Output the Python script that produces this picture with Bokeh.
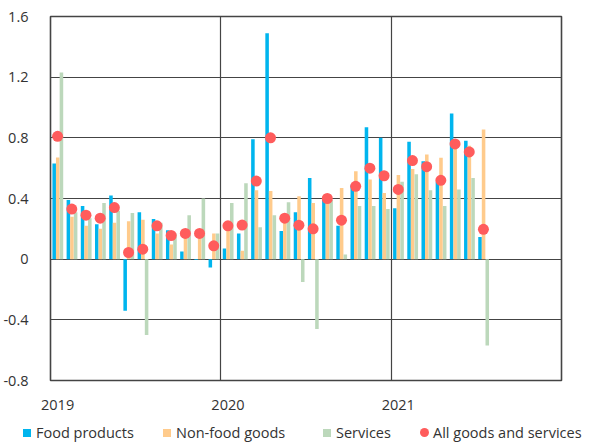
from bokeh.plotting import figure
from bokeh.models import (ColumnDataSource, FixedTicker, CustomJSTickFormatter,
                          Range1d, Div)
from bokeh.layouts import column
from bokeh.embed import file_html
from bokeh.resources import INLINE

months = ["2019-01","2019-02","2019-03","2019-04","2019-05","2019-06","2019-07","2019-08","2019-09","2019-10","2019-11","2019-12",
          "2020-01","2020-02","2020-03","2020-04","2020-05","2020-06","2020-07","2020-08","2020-09","2020-10","2020-11","2020-12",
          "2021-01","2021-02","2021-03","2021-04","2021-05","2021-06","2021-07"]
food = [0.63, 0.39, 0.35, 0.23, 0.42, -0.34, 0.31, 0.265, 0.19, 0.05, -0.005, -0.055,
        0.07, 0.17, 0.79, 1.49, 0.185, 0.31, 0.535, 0.40, 0.22, 0.49, 0.87, 0.80,
        0.335, 0.775, 0.645, 0.51, 0.96, 0.78, 0.146]
nonfood = [0.67, 0.28, 0.22, 0.20, 0.24, 0.25, 0.26, 0.17, 0.097, 0.17, 0.15, 0.17,
           0.20, 0.055, 0.455, 0.45, 0.27, 0.415, 0.37, 0.39, 0.47, 0.58, 0.525, 0.437,
           0.555, 0.595, 0.69, 0.668, 0.74, 0.747, 0.855]
services = [1.23, 0.31, 0.27, 0.37, 0.32, 0.305, -0.50, 0.24, 0.17, 0.29, 0.40, 0.17,
            0.37, 0.50, 0.21, 0.29, 0.375, -0.15, -0.46, 0.39, 0.03, 0.35, 0.35, 0.33,
            0.51, 0.56, 0.455, 0.35, 0.46, 0.535, -0.57]
all_goods = [0.81, 0.33, 0.29, 0.27, 0.34, 0.044, 0.066, 0.22, 0.156, 0.17, 0.17, 0.088,
             0.22, 0.225, 0.515, 0.80, 0.27, 0.224, 0.20, 0.40, 0.257, 0.48, 0.60, 0.55,
             0.46, 0.65, 0.61, 0.52, 0.76, 0.707, 0.197]
y_ticks = [-0.8, -0.4, 0, 0.4, 0.8, 1.2, 1.6]
year_labels = ["2019", "2020", "2021"]
series_names = ["Food products", "Non-food goods", "Services", "All goods and services"]

C_FOOD, C_NON, C_SRV, C_ALL = "#00B5EE", "#FFCB8C", "#BCD8BB", "#FF5C5C"
FONT = "Open Sans"
TXT = "#333333"

idx = list(range(len(months)))
src = ColumnDataSource(dict(
    xf=[i + 0.26 for i in idx], xn=[i + 0.51 for i in idx], xs=[i + 0.77 for i in idx],
    xd=[i + 0.5 for i in idx],
    food=food, nonfood=nonfood, services=services, allg=all_goods))

p = figure(width=592, height=420, output_backend="svg", toolbar_location=None,
           x_range=Range1d(0, 36), y_range=Range1d(-0.8, 1.6),
           min_border_left=49, min_border_top=16, min_border_right=31, min_border_bottom=40)

p.vbar(x="xf", top="food", bottom=0, width=0.25, source=src, fill_color=C_FOOD, line_color=None)
p.vbar(x="xn", top="nonfood", bottom=0, width=0.25, source=src, fill_color=C_NON, line_color=None)
p.vbar(x="xs", top="services", bottom=0, width=0.25, source=src, fill_color=C_SRV, line_color=None)
p.scatter(x="xd", y="allg", source=src, size=11, fill_color=C_ALL, line_color=None)

p.outline_line_color = "#444444"
p.outline_line_width = 1.6

p.yaxis.ticker = FixedTicker(ticks=y_ticks)
p.yaxis.formatter = CustomJSTickFormatter(code="return Math.abs(tick) < 1e-9 ? '0' : tick.toFixed(1);")
p.yaxis.axis_line_color = None
p.yaxis.major_tick_line_color = None
p.yaxis.minor_tick_line_color = None
p.yaxis.major_label_standoff = 16
p.yaxis.major_label_text_font = FONT
p.yaxis.major_label_text_font_size = "14.5px"
p.yaxis.major_label_text_color = TXT

p.xaxis.ticker = FixedTicker(ticks=[0.5, 12.5, 24.5])
p.xaxis.formatter = CustomJSTickFormatter(
    args=dict(labels=year_labels), code="return labels[Math.floor(tick / 12)];")
p.xaxis.axis_line_color = None
p.xaxis.major_tick_line_color = None
p.xaxis.minor_tick_line_color = None
p.xaxis.major_label_standoff = 13
p.xaxis.major_label_text_font = FONT
p.xaxis.major_label_text_font_size = "14.5px"
p.xaxis.major_label_text_color = TXT

p.xgrid.ticker = FixedTicker(ticks=[12, 24])
p.xgrid.grid_line_color = "#444444"
p.xgrid.grid_line_width = 1.2
p.ygrid.ticker = FixedTicker(ticks=[-0.4, 0, 0.4, 0.8, 1.2])
p.ygrid.grid_line_color = "#444444"
p.ygrid.grid_line_width = 1.2

# legend strip below the plot (HTML, real text)
colors = [C_FOOD, C_NON, C_SRV, C_ALL]
glyph_left = [23, 163, 323, 420]
parts = []
for name, c, gx in zip(series_names, colors, glyph_left):
    radius = "border-radius:50%;width:9px;height:9px;top:8px;" if c == C_ALL else "width:8px;height:8px;top:9px;"
    parts.append(
        f'<span style="position:absolute;left:{gx}px;{radius}background:{c};"></span>'
        f'<span style="position:absolute;left:{gx + 13}px;top:3px;line-height:20px;white-space:nowrap;">{name}</span>')
html = ('<div style="position:relative;width:592px;height:23px;'
        f"font-family:'{FONT}',sans-serif;font-size:14.5px;color:{TXT};\">" + "".join(parts) + "</div>")
legend_div = Div(text=html, width=592, height=23, margin=(0, 0, 0, 0))

layout = column(p, legend_div, spacing=0)
open("out.html", "w").write(file_html(layout, INLINE))
